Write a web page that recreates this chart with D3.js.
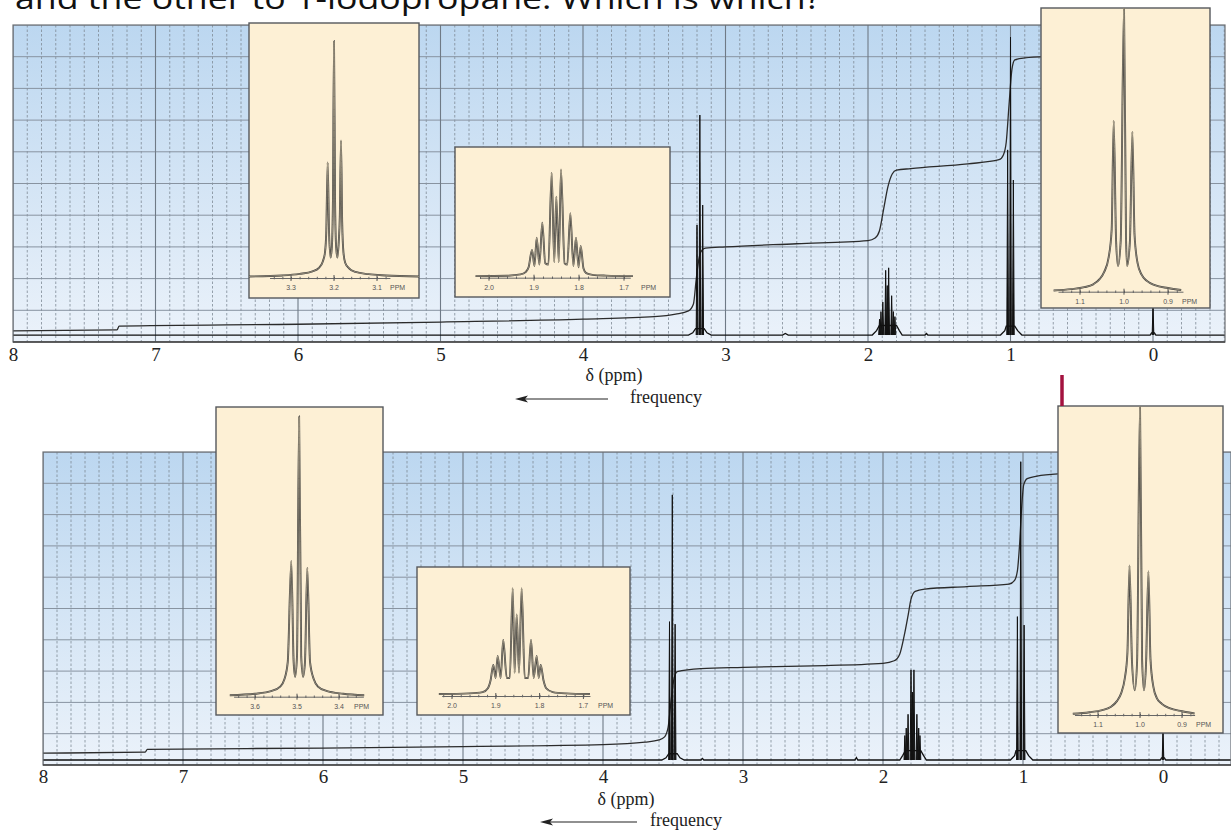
<!DOCTYPE html>
<html lang="en">
<meta charset="utf-8">
<style>
  body { margin: 0; background: #fff; }
  svg { display: block; }
  .ax text { font-family: "Liberation Serif", "DejaVu Serif", serif; font-size: 19px; fill: #222; }
  .lab { font-family: "Liberation Serif", "DejaVu Serif", serif; font-size: 18px; fill: #222; }
  .ins text { font-family: "Liberation Sans", Arial, sans-serif; font-size: 7px; fill: #555; }
</style>
<body>
<svg width="1231" height="830"></svg>
<script src="https://d3js.org/d3.v7.min.js"></script>
<script>
// ---- data (ppm, intensity in % of frame height) ----
const axisTicks = [8, 7, 6, 5, 4, 3, 2, 1, 0]

// upper spectrum
const topPeaks = [
  [3.200, 36.9], [3.180, 71.6], [3.160, 43.2],
  [1.919, 7.2], [1.909, 9.6], [1.896, 12.6], [1.876, 22.6], [1.865, 17.8],
  [1.855, 23.4], [1.834, 14.6], [1.822, 9.6], [1.811, 8.0],
  [1.020, 60.6], [1.000, 96.2], [0.980, 51.1],
  [0.000, 11.7]
]
const topBaseline = [
  [8.3, 2.2], [3.26, 2.2], [3.23, 2.9], [3.21, 4.2], [3.15, 4.2], [3.13, 2.9], [3.1, 2.2],
  [2.60, 2.2], [2.58, 2.7], [2.56, 2.2], [1.97, 2.2], [1.94, 3.6], [1.92, 5.2], [1.80, 5.2],
  [1.78, 3.6], [1.76, 2.2], [1.60, 2.2], [1.59, 2.7], [1.58, 2.2], [1.07, 2.2], [1.04, 3.6],
  [1.03, 5.0], [0.97, 5.0], [0.95, 3.6], [0.92, 2.2], [0.02, 2.2], [0.01, 2.9], [-0.01, 2.9],
  [-0.02, 2.2], [-0.6, 2.2]
]
const topIntegral = [
  [8.0, 3.5], [7.27, 3.8], [7.255, 5.0], [6.0, 5.6], [5.0, 6.3], [4.0, 7.2], [3.5, 8.0],
  [3.35, 8.8], [3.26, 9.8], [3.225, 12], [3.205, 20], [3.185, 26.5], [3.165, 29],
  [3.14, 29.6], [3.0, 30.0], [2.5, 31.0], [2.0, 32.0], [1.95, 32.8], [1.92, 35], [1.89, 42],
  [1.86, 49], [1.83, 53], [1.80, 54.2], [1.70, 54.7], [1.30, 56.2], [1.08, 57.5], [1.05, 59],
  [1.03, 63], [1.01, 75], [0.99, 86], [0.97, 89], [0.90, 89.6], [0.75, 90]
]

// lower spectrum
const botPeaks = [
  [3.525, 45.8], [3.505, 86.3], [3.485, 45.0],
  [1.844, 9.4], [1.834, 11.8], [1.821, 16.2], [1.800, 30.4], [1.790, 23.3],
  [1.779, 30.4], [1.758, 16.2], [1.745, 11.8], [1.736, 9.4],
  [1.040, 47.4], [1.016, 96.9], [0.992, 44.7],
  [0.000, 11.0]
]
const botBaseline = [
  [8.3, 1.6], [3.58, 1.6], [3.55, 2.3], [3.53, 3.6], [3.47, 3.6], [3.45, 2.3], [3.42, 1.6],
  [3.30, 1.6], [3.29, 2.1], [3.28, 1.6], [2.20, 1.6], [2.19, 2.4], [2.18, 1.6], [1.88, 1.6],
  [1.86, 3.0], [1.84, 4.6], [1.73, 4.6], [1.71, 3.0], [1.69, 1.6], [1.09, 1.6], [1.06, 3.0],
  [1.05, 4.6], [0.98, 4.6], [0.96, 3.0], [0.93, 1.6], [0.02, 1.6], [0.01, 2.3], [-0.01, 2.3],
  [-0.02, 1.6], [-0.6, 1.6]
]
const botIntegral = [
  [8.0, 3.8], [7.27, 4.1], [7.255, 5.0], [6.0, 5.4], [5.0, 5.9], [4.0, 6.5], [3.7, 7.3],
  [3.6, 8.0], [3.56, 9.0], [3.535, 12], [3.515, 20], [3.495, 27], [3.47, 29.8], [3.3, 30.8],
  [3.0, 31.2], [2.5, 31.7], [2.0, 32.5], [1.92, 33.3], [1.88, 35.5], [1.85, 41], [1.82, 48],
  [1.80, 53], [1.77, 55.5], [1.70, 56.2], [1.40, 57], [1.10, 57.8], [1.06, 59], [1.04, 62],
  [1.025, 70], [1.01, 82], [0.995, 89.5], [0.97, 91.5], [0.90, 92.3], [0.75, 93]
]

// expanded multiplets (ppm, intensity in % of inset height)
const topCH2XTicks = [3.3, 3.2, 3.1]
const topCH2XTrace = [
  [3.40, 0.6], [3.32, 1.0], [3.28, 1.6], [3.25, 2.6], [3.235, 4], [3.226, 6.5], [3.221, 10],
  [3.218, 18], [3.2147, 45.3], [3.2115, 18], [3.208, 8], [3.205, 12], [3.2025, 30], [3.2, 92.9],
  [3.1975, 30], [3.195, 12], [3.192, 8], [3.189, 14], [3.1865, 24], [3.1837, 53.9], [3.181, 22],
  [3.178, 10], [3.174, 6], [3.165, 3.8], [3.15, 2.4], [3.12, 1.5], [3.08, 1.0], [3.0, 0.6]
]
const topCH2Ticks = [2.0, 1.9, 1.8, 1.7]
const topCH2Trace = [
  [2.03, 1.2], [1.96, 1.5], [1.93, 2.5], [1.918, 4.5], [1.912, 8], [1.9044, 21.2], [1.899, 9],
  [1.894, 30.6], [1.888, 10], [1.8816, 42.1], [1.875, 11], [1.868, 10], [1.8607, 80.3],
  [1.855, 12], [1.8504, 62], [1.845, 12], [1.84, 82.9], [1.832, 11], [1.826, 10],
  [1.8193, 49.3], [1.8125, 9], [1.8067, 30.6], [1.801, 8], [1.7962, 24.3], [1.79, 7],
  [1.784, 3.5], [1.77, 2.2], [1.74, 1.6], [1.68, 1.2]
]
const topCH3Ticks = [1.1, 1.0, 0.9]
const topCH3Trace = [
  [1.16, 0.4], [1.12, 0.9], [1.09, 1.6], [1.07, 2.6], [1.055, 4.5], [1.045, 7], [1.035, 12],
  [1.028, 22], [1.0234, 60.3], [1.018, 18], [1.0136, 9], [1.0075, 18], [1.0, 101],
  [0.9955, 20], [0.993, 9], [0.9865, 18], [0.981, 56.4], [0.976, 20], [0.969, 10], [0.96, 6],
  [0.948, 3.8], [0.93, 2.3], [0.90, 1.3], [0.87, 0.6]
]
const botCH2XTicks = [3.6, 3.5, 3.4]
const botCH2XTrace = [
  [3.66, 0.5], [3.60, 1], [3.56, 2], [3.54, 3.5], [3.53, 6], [3.522, 12], [3.5136, 46.9],
  [3.508, 12], [3.5045, 6.9], [3.50, 14], [3.495, 96.7], [3.49, 14], [3.4855, 6.9], [3.481, 12],
  [3.4755, 44.5], [3.469, 12], [3.46, 6], [3.45, 3.5], [3.43, 2], [3.39, 1], [3.34, 0.5]
]
const botCH2Ticks = [2.0, 1.9, 1.8, 1.7]
const botCH2Trace = [
  [2.03, 1.5], [1.96, 2], [1.93, 3], [1.918, 6], [1.912, 12], [1.9057, 24], [1.9005, 14],
  [1.8957, 31], [1.889, 14], [1.883, 43.4], [1.875, 14], [1.868, 14], [1.8614, 83.5],
  [1.857, 18], [1.8523, 63.3], [1.847, 18], [1.841, 83.5], [1.834, 14], [1.826, 14],
  [1.8196, 43.4], [1.8135, 14], [1.8066, 31], [1.802, 14], [1.7975, 24], [1.791, 12],
  [1.785, 6], [1.77, 3], [1.74, 2], [1.685, 1.5]
]
const botCH3Ticks = [1.1, 1.0, 0.9]
const botCH3Trace = [
  [1.16, 0.4], [1.12, 0.9], [1.09, 1.6], [1.07, 2.6], [1.055, 4.5], [1.045, 7], [1.036, 12],
  [1.03, 20], [1.025, 48.4], [1.019, 17], [1.0125, 8], [1.007, 17], [1.0, 101],
  [0.995, 18], [0.9905, 8], [0.9855, 17], [0.980, 46.5], [0.975, 18], [0.968, 9], [0.96, 5.5],
  [0.948, 3.6], [0.93, 2.2], [0.90, 1.2], [0.87, 0.5]
]

// ---- drawing ----
let svg = d3.select('svg')
let defs = svg.append('defs')

let grad = defs.append('linearGradient').attr('id', 'bg')
  .attr('x1', 0).attr('y1', 0).attr('x2', 0).attr('y2', 1)
grad.append('stop').attr('offset', '0%').attr('stop-color', '#bcd7f0')
grad.append('stop').attr('offset', '100%').attr('stop-color', '#ebf2fa')

// partial title line, cut by the top of the page as in the source
svg.append('text')
  .attr('x', 15).attr('y', 9)
  .attr('textLength', 806).attr('lengthAdjust', 'spacingAndGlyphs')
  .style('font-family', '"Open Sans", "Liberation Sans", sans-serif')
  .style('font-size', '30px').style('fill', '#111')
  .text('and the other to 1-iodopropane. Which is which?')

function drawPanel(p) {
  let x = d3.scaleLinear().domain([8, 0]).range([p.left, p.zeroX])
  let y = d3.scaleLinear().domain([0, 100]).range([p.bottom, p.top])
  let g = svg.append('g')

  defs.append('clipPath').attr('id', 'clip' + p.name)
    .append('rect')
    .attr('x', p.left).attr('y', p.top)
    .attr('width', p.right - p.left).attr('height', p.bottom - p.top)

  g.append('rect')
    .attr('x', p.left).attr('y', p.top)
    .attr('width', p.right - p.left).attr('height', p.bottom - p.top)
    .attr('fill', 'url(#bg)')

  let inner = g.append('g').attr('clip-path', `url(#clip${p.name})`)
  let xEnd = x.invert(p.right)

  // grid
  let minor = d3.ticks(xEnd, 8, 85).filter(v => Math.abs(v - Math.round(v)) > 1e-6)
  let major = d3.ticks(xEnd, 8, 8)
  inner.append('g').selectAll('line').data(minor).enter().append('line')
    .attr('x1', d => x(d)).attr('x2', d => x(d))
    .attr('y1', p.top).attr('y2', p.bottom)
    .attr('stroke', '#7f8a96').attr('stroke-width', 0.8)
    .attr('stroke-dasharray', '2.5,2')
  inner.append('g').selectAll('line').data(y.ticks(10)).enter().append('line')
    .attr('x1', p.left).attr('x2', p.right)
    .attr('y1', d => y(d)).attr('y2', d => y(d))
    .attr('stroke', '#8893a0').attr('stroke-width', 1)
  inner.append('g').selectAll('line').data(major).enter().append('line')
    .attr('x1', d => x(d)).attr('x2', d => x(d))
    .attr('y1', p.top).attr('y2', p.bottom)
    .attr('stroke', '#6f7a86').attr('stroke-width', 1.1)

  let line = d3.line().x(d => x(d[0])).y(d => y(d[1]))

  // integral trace
  inner.append('path')
    .attr('d', line.curve(d3.curveMonotoneX)(p.integral))
    .attr('fill', 'none').attr('stroke', '#2b2b2b').attr('stroke-width', 1.3)

  // spectrum baseline and peak lines
  inner.append('path')
    .attr('d', line.curve(d3.curveLinear)(p.baseline))
    .attr('fill', 'none').attr('stroke', '#111').attr('stroke-width', 1.3)
  let hw = 0.006
  inner.append('g').selectAll('path').data(p.peaks).enter().append('path')
    .attr('d', d => line([[d[0] + hw, p.base], [d[0], d[1]], [d[0] - hw, p.base]]))
    .attr('fill', '#111').attr('stroke', '#111').attr('stroke-width', 1)

  g.append('rect')
    .attr('x', p.left).attr('y', p.top)
    .attr('width', p.right - p.left).attr('height', p.bottom - p.top)
    .attr('fill', 'none').attr('stroke', '#6b6f74').attr('stroke-width', 1.2)
  g.append('line')
    .attr('x1', p.left).attr('x2', p.right).attr('y1', p.bottom).attr('y2', p.bottom)
    .attr('stroke', '#444').attr('stroke-width', 1.4)

  p.insets.forEach(drawInset)

  // axis labels
  g.append('g').attr('class', 'ax')
    .attr('transform', `translate(0,${p.bottom})`)
    .call(d3.axisBottom(x).tickValues(axisTicks).tickSize(0).tickPadding(p.pad).tickFormat(d3.format('d')))
    .call(a => a.select('.domain').remove())

  g.append('text').attr('class', 'lab')
    .attr('x', p.deltaX).attr('y', p.deltaY).attr('text-anchor', 'middle')
    .text('δ (ppm)')
  g.append('line')
    .attr('x1', p.arrow[0] + 10).attr('x2', p.arrow[1])
    .attr('y1', p.arrow[2]).attr('y2', p.arrow[2])
    .attr('stroke', '#222').attr('stroke-width', 1.2)
  g.append('path')
    .attr('d', `M${p.arrow[0]},${p.arrow[2]} l13,-3.5 l-3,3.5 l3,3.5 z`)
    .attr('fill', '#222')
  g.append('text').attr('class', 'lab')
    .attr('x', p.freqX).attr('y', p.arrow[2] + 4)
    .text('frequency')
}

let insetCount = 0
function drawInset(ins) {
  let [bx, by, bw, bh] = ins.box
  let t = ins.ticks
  let x = d3.scaleLinear().domain([t[0], t[t.length - 1]]).range(ins.tickPx)
  let y = d3.scaleLinear().domain([0, 100]).range([ins.axisY, by])
  let g = svg.append('g').attr('class', 'ins')
  let id = 'ins' + (insetCount++)

  defs.append('clipPath').attr('id', id)
    .append('rect').attr('x', bx).attr('y', by).attr('width', bw).attr('height', bh)

  g.append('rect')
    .attr('x', bx).attr('y', by).attr('width', bw).attr('height', bh)
    .attr('fill', '#fdf0d5').attr('stroke', '#55585c').attr('stroke-width', 1.4)

  // axis line with small ticks
  let ax = d3.scaleLinear().domain(ins.extent).range([x(ins.extent[0]), x(ins.extent[1])])
  let axg = g.append('g').attr('transform', `translate(0,${ins.axisY})`)
  axg.call(d3.axisBottom(ax).ticks(16).tickSize(2.5).tickSizeOuter(0).tickFormat(''))
  axg.selectAll('line').attr('stroke', '#666').attr('transform', 'translate(0,-1.2)')
  axg.select('.domain').attr('stroke', '#666').attr('stroke-width', 1)
  axg.selectAll('.big').data(t).enter().append('line')
    .attr('x1', d => x(d)).attr('x2', d => x(d)).attr('y1', -3).attr('y2', 3)
    .attr('stroke', '#555')

  g.selectAll('.tl').data(t).enter().append('text')
    .attr('x', d => x(d)).attr('y', ins.axisY + 12).attr('text-anchor', 'middle')
    .text(d3.format('.1f'))
  g.append('text').attr('x', ins.ppmX).attr('y', ins.axisY + 12).text('PPM')

  let line = d3.line().x(d => x(d[0])).y(d => y(d[1])).curve(d3.curveMonotoneX)
  let tr = g.append('g').attr('clip-path', `url(#${id})`)
  tr.append('path').attr('d', line(ins.trace))
    .attr('fill', 'none').attr('stroke', '#3f3f3f').attr('stroke-width', 1.9)
  tr.append('path').attr('d', line(ins.trace))
    .attr('fill', 'none').attr('stroke', '#cbbd9f').attr('stroke-width', 0.6)
}

drawPanel({
  name: 'top', left: 13, right: 1225, top: 25, bottom: 342, zeroX: 1153, base: 2.2,
  peaks: topPeaks, baseline: topBaseline, integral: topIntegral,
  pad: 6, deltaX: 614, deltaY: 381, arrow: [515, 608, 399], freqX: 630,
  insets: [
    { box: [249, 23, 170, 275], axisY: 278, ticks: topCH2XTicks, tickPx: [291, 377],
      extent: [3.35, 3.07], ppmX: 390, trace: topCH2XTrace },
    { box: [455, 147, 215, 150], axisY: 277.7, ticks: topCH2Ticks, tickPx: [489, 624],
      extent: [2.02, 1.686], ppmX: 641, trace: topCH2Trace },
    { box: [1041, 8, 169, 300], axisY: 291.7, ticks: topCH3Ticks, tickPx: [1080, 1168],
      extent: [1.15, 0.866], ppmX: 1182, trace: topCH3Trace }
  ]
})

drawPanel({
  name: 'bot', left: 43, right: 1231, top: 452, bottom: 765, zeroX: 1163, base: 1.6,
  peaks: botPeaks, baseline: botBaseline, integral: botIntegral,
  pad: 5, deltaX: 626, deltaY: 805, arrow: [540, 637, 822], freqX: 650,
  insets: [
    { box: [216, 407, 167, 308], axisY: 696.7, ticks: botCH2XTicks, tickPx: [255, 339],
      extent: [3.651, 3.342], ppmX: 354, trace: botCH2XTrace },
    { box: [417, 567, 213, 148], axisY: 696, ticks: botCH2Ticks, tickPx: [452, 583.4],
      extent: [2.0235, 1.685], ppmX: 598, trace: botCH2Trace },
    { box: [1058, 406, 165, 327], axisY: 715, ticks: botCH3Ticks, tickPx: [1098, 1182],
      extent: [1.156, 0.87], ppmX: 1196, trace: botCH3Trace }
  ]
})

// red marker above the lower right inset
svg.append('line')
  .attr('x1', 1062).attr('x2', 1062).attr('y1', 375).attr('y2', 406)
  .attr('stroke', '#a3123f').attr('stroke-width', 3.5)
</script>
</body>
</html>
